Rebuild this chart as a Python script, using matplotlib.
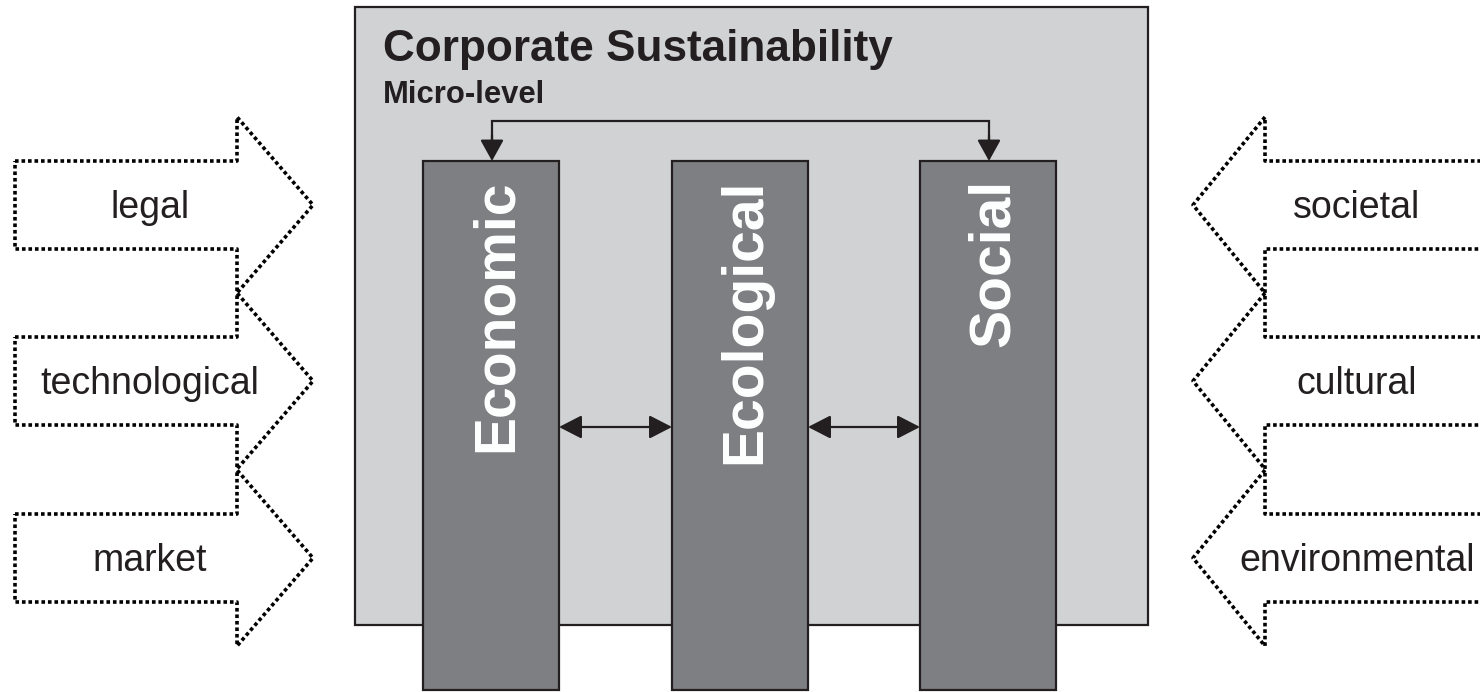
import matplotlib
matplotlib.use("Agg")
import matplotlib.pyplot as plt
from matplotlib.patches import Rectangle, FancyArrowPatch

plt.rcParams['font.family'] = ['Liberation Sans', 'DejaVu Sans']

# ---- content ----
title = "Corporate Sustainability"
subtitle = "Micro-level"
pillar_labels = ["Economic", "Ecological", "Social"]
left_labels = ["legal", "technological", "market"]
right_labels = ["societal", "cultural", "environmental"]

# ---- layout (pixel coordinates) ----
W, H = 1480, 692
DARK = "#231f20"
BOX_FC = "#d1d2d4"
BAR_FC = "#7e7f83"

fig = plt.figure(figsize=(W / 100, H / 100), dpi=100)
ax = fig.add_axes([0, 0, 1, 1])
ax.set_xlim(0, W)
ax.set_ylim(H, 0)
ax.axis("off")

# main box
ax.add_patch(Rectangle((355, 7), 793, 618, fc=BOX_FC, ec=DARK, lw=1.6, zorder=1))
ax.text(383, 61, title, fontsize=31.8, fontweight="bold", color=DARK, va="baseline", ha="left", zorder=5)
ax.text(383, 103, subtitle, fontsize=22.3, fontweight="bold", color=DARK, va="baseline", ha="left", zorder=5)

# pillars
bar_left = [423, 672, 920]
bar_w = 136
bar_top, bar_bot = 161, 690
for x0, lab in zip(bar_left, pillar_labels):
    ax.add_patch(Rectangle((x0, bar_top), bar_w, bar_bot - bar_top, fc=BAR_FC, ec=DARK, lw=1.6, zorder=3))
    cx = x0 + bar_w / 2
    ax.text(cx + 20.5, 179, lab, rotation=90, rotation_mode="anchor", ha="right", va="baseline",
            fontsize=41, fontweight="bold", color="white", zorder=5)

# double arrows between pillars
arr_kw = dict(arrowstyle="<|-|>,head_length=0.7,head_width=0.36", mutation_scale=20,
              color=DARK, lw=1.6, shrinkA=0, shrinkB=0, zorder=4)
for i in range(len(bar_left) - 1):
    xa = bar_left[i] + bar_w
    xb = bar_left[i + 1]
    ax.add_patch(FancyArrowPatch((xa, 427), (xb, 427), **arr_kw))

# top connector between Economic and Social
xl = bar_left[0] + 69
xr = bar_left[2] + 69
ax.plot([xl, xl, xr, xr], [145, 121, 121, 145], color=DARK, lw=1.6, solid_joinstyle="miter", zorder=4)
down_kw = dict(arrowstyle="-|>,head_length=0.65,head_width=0.36", mutation_scale=20,
               color=DARK, lw=1.6, shrinkA=0, shrinkB=0, zorder=4)
for xx in (xl, xr):
    ax.add_patch(FancyArrowPatch((xx, 135), (xx, bar_top), **down_kw))

# dotted side arrows
dot_kw = dict(color="black", lw=2.6, linestyle=(0, (1.0, 0.8)), dash_capstyle="butt", zorder=2)
centers = [205, 381, 558]
sh = 44      # half shaft height
hh = 88      # half head height

for cy, lab in zip(centers, left_labels):
    xs = [15, 237, 237, 313, 237, 237, 15, 15]
    ys = [cy - sh, cy - sh, cy - hh, cy, cy + hh, cy + sh, cy + sh, cy - sh]
    ax.plot(xs, ys, **dot_kw)
    ax.text(150, cy + 13, lab, fontsize=27, color=DARK, ha="center", va="baseline", zorder=5)

for cy, lab in zip(centers, right_labels):
    xs = [1500, 1265, 1265, 1193, 1265, 1265, 1500]
    ys = [cy - sh, cy - sh, cy - hh, cy, cy + hh, cy + sh, cy + sh]
    ax.plot(xs, ys, **dot_kw)
    ax.text(1357, cy + 13, lab, fontsize=27, color=DARK, ha="center", va="baseline", zorder=5)

fig.savefig("out.png", dpi=100)
